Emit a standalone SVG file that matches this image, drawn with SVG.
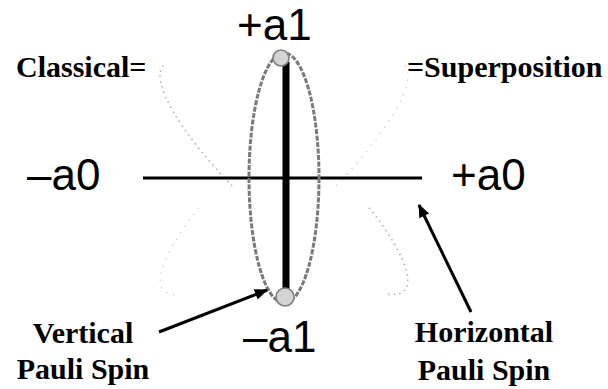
<svg xmlns="http://www.w3.org/2000/svg" width="608" height="389" viewBox="0 0 608 389">
<style>
.lbl{font-family:"Liberation Serif","Times New Roman",serif;font-weight:bold;font-size:30px;fill:#000}
.ax{font-family:"Liberation Sans",Arial,sans-serif;font-size:44px;fill:#000}
.faint{fill:none;stroke:#b0b0b0;stroke-width:1.6;stroke-dasharray:1.5 4}
.fainter{fill:none;stroke:#d2d2d2;stroke-width:1.4;stroke-dasharray:1.5 6}
.arrow{stroke:#000;stroke-width:3;fill:none;marker-end:url(#ah)}
.dot{fill:#d4d4d4;stroke:#808080;stroke-width:1.6}
</style>
<defs>
<marker id="ah" viewBox="0 0 12 10" refX="11" refY="5" markerWidth="14" markerHeight="11" markerUnits="userSpaceOnUse" orient="auto">
<path d="M0 0 L12 5 L0 10 Z" fill="#000"/>
</marker>
</defs>
<rect width="608" height="389" fill="#fff"/>
<g id="classical-curve">
<path class="faint" d="M163.4 65.5 A165 42 43 0 0 234.8 188.7"/>
<path class="faint" d="M369 207.7 A165 42 43 0 1 387.5 294.2"/>
</g>
<g id="superposition-curve">
<path class="fainter" d="M404.6 65.5 A165 42 -43 0 1 333.2 188.7"/>
<path class="fainter" d="M199 207.7 A165 42 -43 0 0 180.5 294.2"/>
</g>
<g id="horizontal-axis">
<line x1="143" y1="178" x2="422" y2="178" stroke="#000" stroke-width="3"/>
</g>
<g id="spin-ellipse">
<ellipse cx="284" cy="178" rx="35" ry="125" fill="none" stroke="#7a7a7a" stroke-width="3" stroke-dasharray="5 1.5"/>
</g>
<g id="vertical-axis">
<line x1="286" y1="62" x2="286" y2="293" stroke="#000" stroke-width="7"/>
</g>
<g id="top-pole">
<circle class="dot" cx="281" cy="58" r="8"/>
</g>
<g id="bottom-pole">
<circle class="dot" cx="285" cy="297" r="9"/>
</g>
<g id="connectors">
<line class="arrow" x1="159" y1="332" x2="267" y2="290"/>
<line class="arrow" x1="471" y1="312" x2="419" y2="205"/>
</g>
<g id="label-plus-a1"><text class="ax" x="237" y="40">+a1</text></g>
<g id="label-minus-a1"><text class="ax" x="243" y="352">–a1</text></g>
<g id="label-minus-a0"><text class="ax" x="27" y="190">–a0</text></g>
<g id="label-plus-a0"><text class="ax" x="451" y="190">+a0</text></g>
<g id="label-classical"><text class="lbl" x="16" y="77">Classical=</text></g>
<g id="label-superposition"><text class="lbl" x="407" y="77">=Superposition</text></g>
<g id="label-vertical">
<text class="lbl" x="83" y="343" text-anchor="middle">Vertical</text>
<text class="lbl" x="83" y="379" text-anchor="middle">Pauli Spin</text>
</g>
<g id="label-horizontal">
<text class="lbl" x="484" y="342" text-anchor="middle">Horizontal</text>
<text class="lbl" x="484" y="380" text-anchor="middle">Pauli Spin</text>
</g>
</svg>
